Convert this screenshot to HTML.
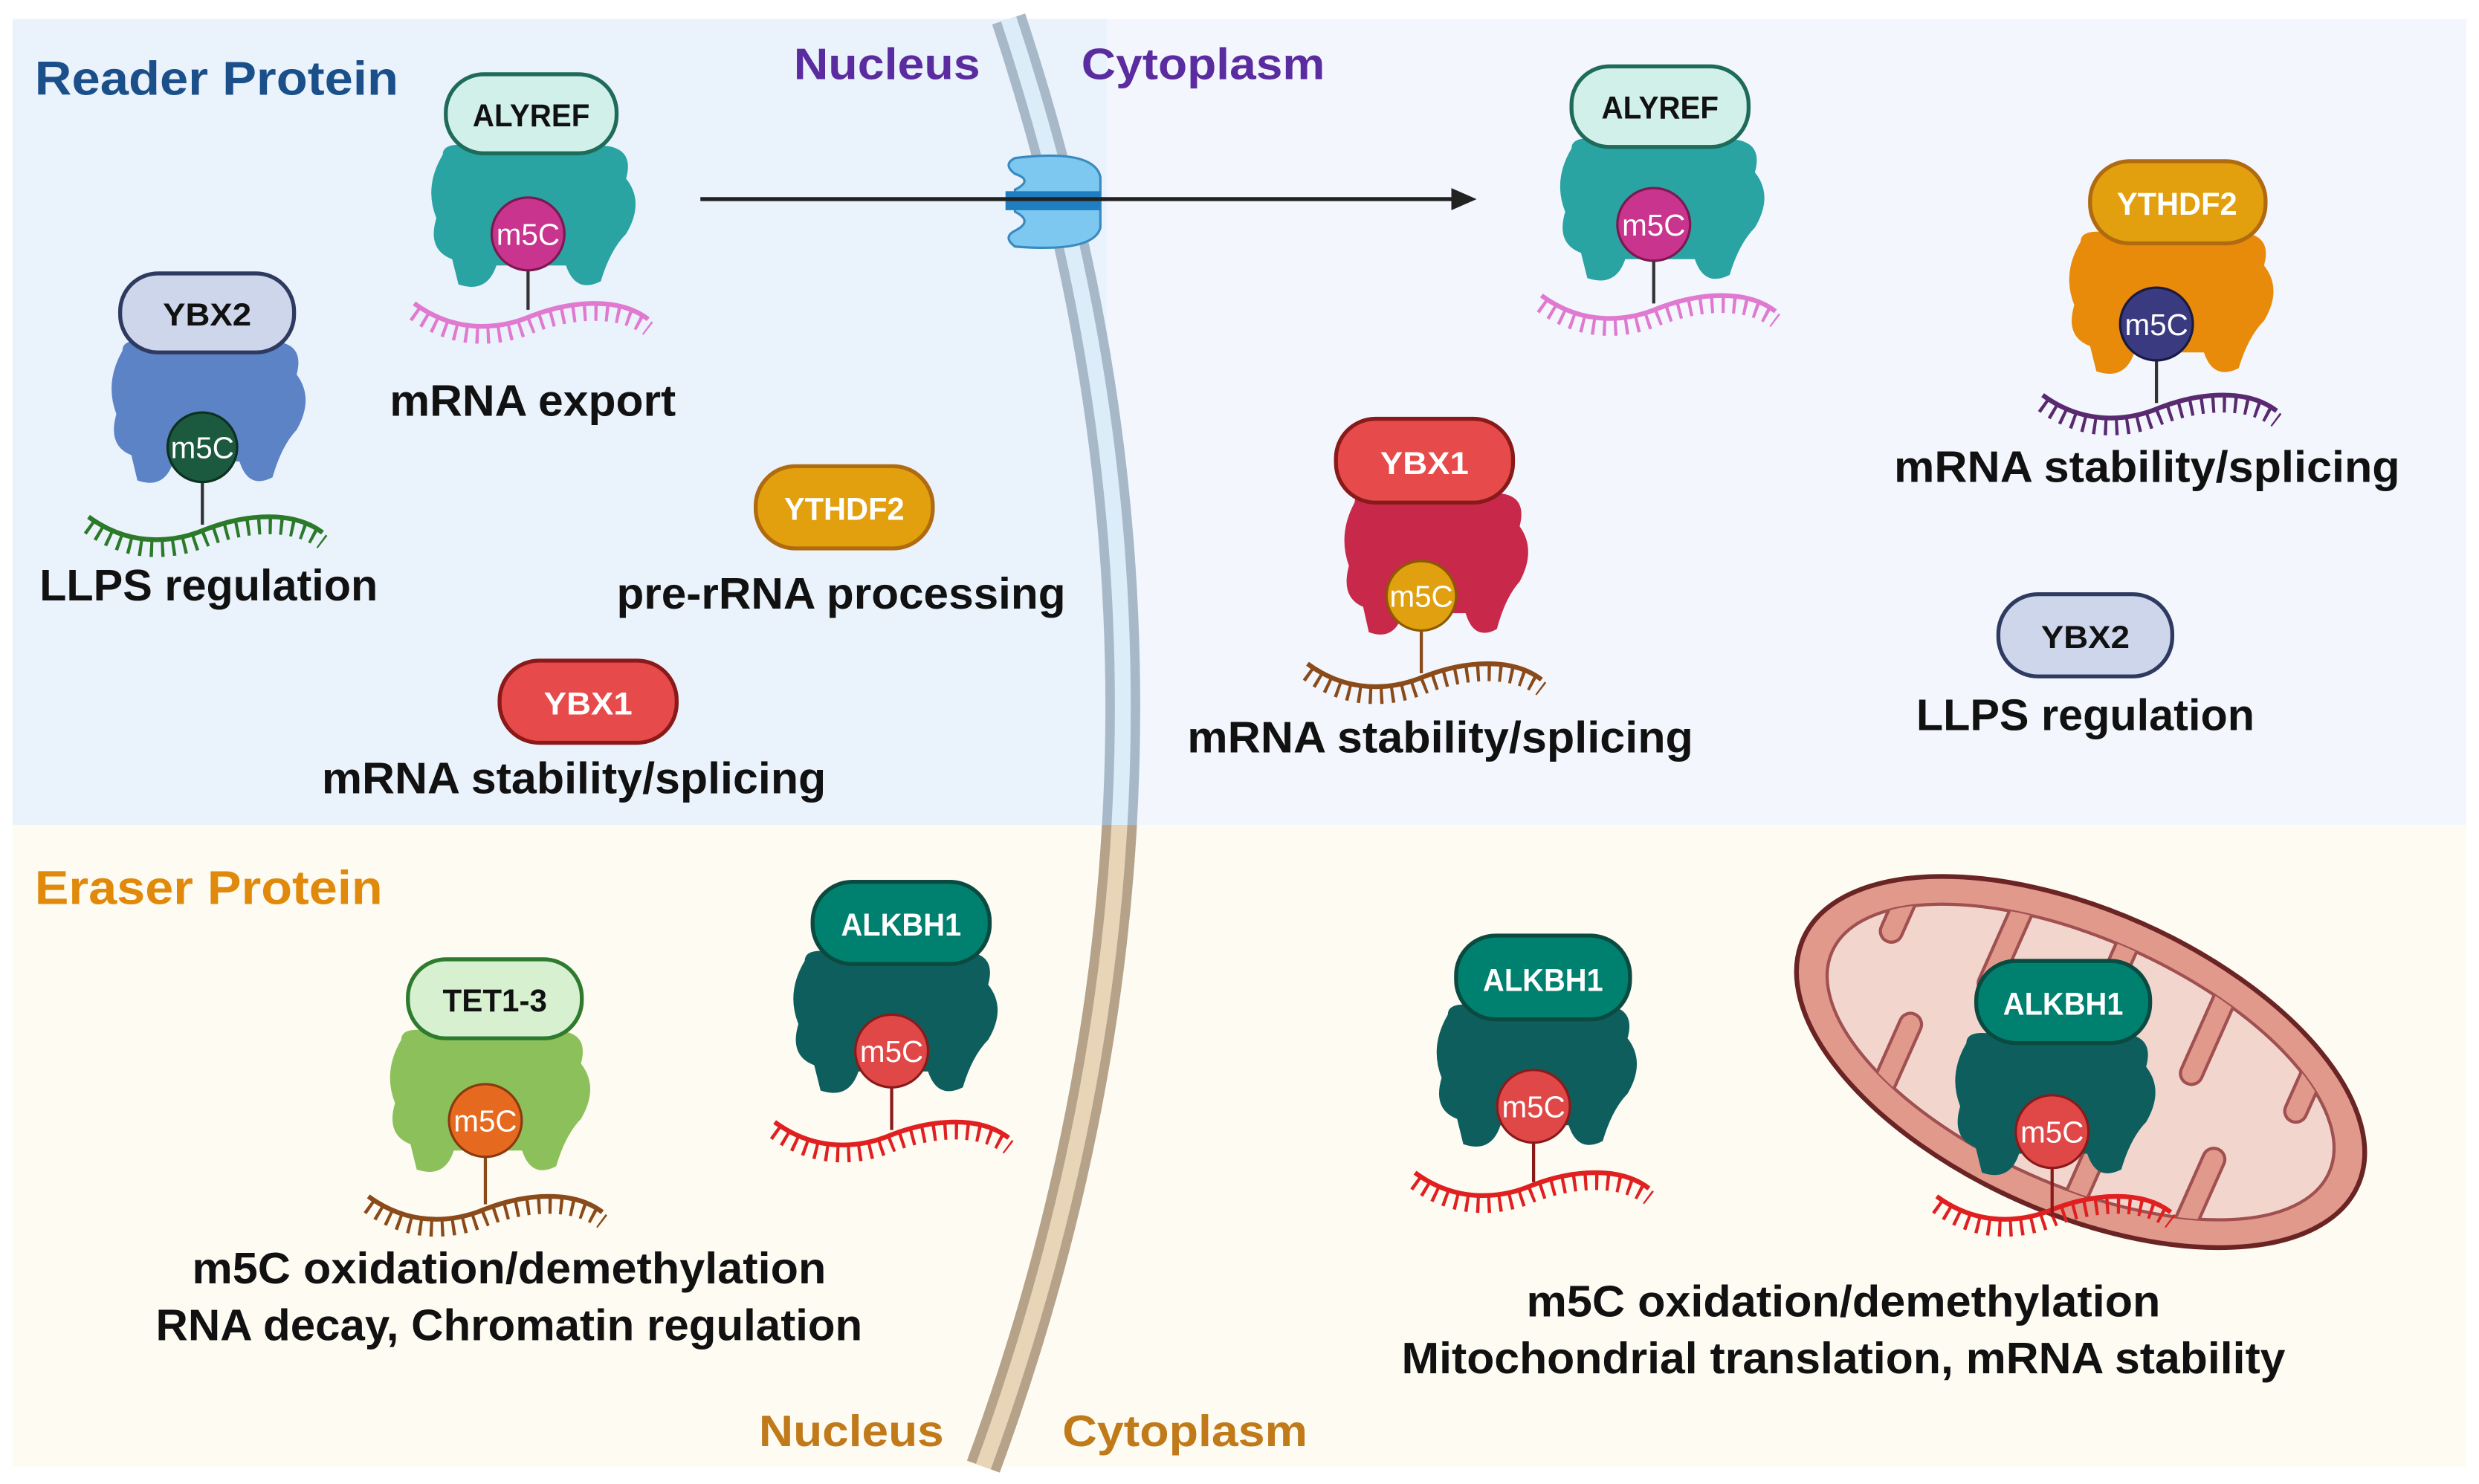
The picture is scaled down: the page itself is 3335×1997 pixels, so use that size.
<!DOCTYPE html>
<html><head><meta charset="utf-8"><style>
html,body{margin:0;padding:0;background:#fff}
svg{display:block}
text{font-family:"Liberation Sans",sans-serif;font-weight:bold}
</style></head><body>
<svg width="3335" height="1997" viewBox="0 0 1568 939" preserveAspectRatio="none" xmlns="http://www.w3.org/2000/svg">
<defs>
<path id="w" d="M0,-8 C30,14 60,6 74,0 C100,-10 130,-12 148,2" fill="none"/>
<g id="rna">
<use href="#w" stroke-width="3"/>
<use href="#w" transform="translate(0,6)" stroke-width="10" stroke-dasharray="2 5"/>
</g>
<path id="b" d="M12,10 Q0,30 8,50 Q2,70 18,76 L22,92 Q40,98 46,80 L90,80 Q96,98 112,90 Q118,70 128,60 Q140,40 128,25 Q134,4 110,4 L28,4 Q12,2 12,10 Z"/>
<clipPath id="mc"><ellipse cx="0" cy="0" rx="172" ry="78"/></clipPath>
</defs>

<rect x="0" y="0" width="1568" height="939" fill="#fff"/>
<rect x="8" y="12" width="700" height="510" fill="#eaf2fb"/>
<rect x="700" y="12" width="860" height="510" fill="#f3f7fd"/>
<rect x="8" y="522" width="1552" height="406" fill="#fdfbf2"/>

<!-- membrane -->
<path d="M638,12 Q790,470 622,928" fill="none" stroke="#a7b9c8" stroke-width="22"/>
<path d="M638,12 Q790,470 622,928" fill="none" stroke="#dcedf9" stroke-width="10"/>
<clipPath id="lc"><rect x="0" y="522" width="1568" height="420"/></clipPath>
<g clip-path="url(#lc)">
<path d="M638,12 Q790,470 622,928" fill="none" stroke="#b6a288" stroke-width="22"/>
<path d="M638,12 Q790,470 622,928" fill="none" stroke="#e8d5b8" stroke-width="10"/>
</g>

<!-- pore -->
<path d="M642,100 Q692,94 696,112 L696,144 Q692,160 642,156 Q634,150 642,146 Q654,140 642,134 L642,120 Q654,114 642,110 Q634,104 642,100 Z" fill="#7cc8f0" stroke="#3a8ac0" stroke-width="1.5"/>
<rect x="636" y="121" width="60" height="12" fill="#1e7ec0"/>

<!-- arrow -->
<line x1="443" y1="126" x2="920" y2="126" stroke="#222" stroke-width="2.5"/>
<polygon points="918,119 934,126 918,133" fill="#222"/>

<!-- titles -->
<text x="22" y="60" font-size="30" fill="#1a4f8a" textLength="230" lengthAdjust="spacingAndGlyphs">Reader Protein</text>
<text x="502" y="50" font-size="28" fill="#5b2ca0" textLength="118" lengthAdjust="spacingAndGlyphs">Nucleus</text>
<text x="684" y="50" font-size="28" fill="#5b2ca0" textLength="154" lengthAdjust="spacingAndGlyphs">Cytoplasm</text>
<text x="22" y="572" font-size="30" fill="#e0890a" textLength="220" lengthAdjust="spacingAndGlyphs">Eraser Protein</text>
<text x="480" y="915" font-size="28" fill="#c07a1a" textLength="117" lengthAdjust="spacingAndGlyphs">Nucleus</text>
<text x="672" y="915" font-size="28" fill="#c07a1a" textLength="155" lengthAdjust="spacingAndGlyphs">Cytoplasm</text>

<!-- left ALYREF -->
<g stroke="#e07ad0"><use href="#rna" transform="translate(262,200)"/></g>
<use href="#b" transform="translate(268,88)" fill="#2aa3a3"/>
<line x1="334" y1="165" x2="334" y2="196" stroke="#333" stroke-width="2"/>
<circle cx="334" cy="148" r="23" fill="#c8348e" stroke="#7a1a50" stroke-width="1.5"/>
<text x="334" y="155" font-size="19" fill="#fff" text-anchor="middle" style="font-weight:normal">m5C</text>
<rect x="282" y="47" width="108" height="50" rx="24" fill="#d2f0ea" stroke="#1f6b5a" stroke-width="2.5"/>
<text x="336" y="80" font-size="20" fill="#111" text-anchor="middle" textLength="74" lengthAdjust="spacingAndGlyphs">ALYREF</text>
<text x="337" y="263" font-size="28" fill="#111" text-anchor="middle" textLength="181" lengthAdjust="spacingAndGlyphs">mRNA export</text>

<!-- left YBX2 -->
<g stroke="#2a7a2a"><use href="#rna" transform="translate(56,335)"/></g>
<use href="#b" transform="translate(66,212) scale(0.95,1.0)" fill="#5b83c6"/>
<line x1="128" y1="300" x2="128" y2="332" stroke="#333" stroke-width="2"/>
<circle cx="128" cy="283" r="22" fill="#1c5a40" stroke="#0d3020" stroke-width="1.5"/>
<text x="128" y="290" font-size="19" fill="#fff" text-anchor="middle" style="font-weight:normal">m5C</text>
<rect x="76" y="173" width="110" height="50" rx="24" fill="#cdd6ea" stroke="#2e3a60" stroke-width="2.5"/>
<text x="131" y="206" font-size="20" fill="#111" text-anchor="middle" textLength="56" lengthAdjust="spacingAndGlyphs">YBX2</text>
<text x="132" y="380" font-size="28" fill="#111" text-anchor="middle" textLength="214" lengthAdjust="spacingAndGlyphs">LLPS regulation</text>

<!-- left YTHDF2 -->
<rect x="478" y="295" width="112" height="52" rx="25" fill="#e2a00e" stroke="#b06a10" stroke-width="2.5"/>
<text x="534" y="329" font-size="20" fill="#fff" text-anchor="middle" textLength="76" lengthAdjust="spacingAndGlyphs">YTHDF2</text>
<text x="532" y="385" font-size="28" fill="#111" text-anchor="middle" textLength="284" lengthAdjust="spacingAndGlyphs">pre-rRNA processing</text>

<!-- left YBX1 -->
<rect x="316" y="418" width="112" height="52" rx="25" fill="#e64a4a" stroke="#8a1a1a" stroke-width="2.5"/>
<text x="372" y="452" font-size="20" fill="#fff" text-anchor="middle" textLength="56" lengthAdjust="spacingAndGlyphs">YBX1</text>
<text x="363" y="502" font-size="28" fill="#111" text-anchor="middle" textLength="319" lengthAdjust="spacingAndGlyphs">mRNA stability/splicing</text>

<!-- right ALYREF -->
<g stroke="#e07ad0"><use href="#rna" transform="translate(975,195)"/></g>
<use href="#b" transform="translate(982,84)" fill="#2aa3a3"/>
<line x1="1046" y1="160" x2="1046" y2="192" stroke="#333" stroke-width="2"/>
<circle cx="1046" cy="142" r="23" fill="#c8348e" stroke="#7a1a50" stroke-width="1.5"/>
<text x="1046" y="149" font-size="19" fill="#fff" text-anchor="middle" style="font-weight:normal">m5C</text>
<rect x="994" y="42" width="112" height="51" rx="24" fill="#d2f0ea" stroke="#1f6b5a" stroke-width="2.5"/>
<text x="1050" y="75" font-size="20" fill="#111" text-anchor="middle" textLength="74" lengthAdjust="spacingAndGlyphs">ALYREF</text>

<!-- right YTHDF2 -->
<g stroke="#5a2a70"><use href="#rna" transform="translate(1292,258)"/></g>
<use href="#b" transform="translate(1304,143)" fill="#e88a0a"/>
<line x1="1364" y1="222" x2="1364" y2="255" stroke="#333" stroke-width="2"/>
<circle cx="1364" cy="205" r="23" fill="#3a3a80" stroke="#1a1a40" stroke-width="1.5"/>
<text x="1364" y="212" font-size="19" fill="#fff" text-anchor="middle" style="font-weight:normal">m5C</text>
<rect x="1322" y="102" width="111" height="52" rx="25" fill="#e2a00e" stroke="#b06a10" stroke-width="2.5"/>
<text x="1377" y="136" font-size="20" fill="#fff" text-anchor="middle" textLength="76" lengthAdjust="spacingAndGlyphs">YTHDF2</text>
<text x="1358" y="305" font-size="28" fill="#111" text-anchor="middle" textLength="320" lengthAdjust="spacingAndGlyphs">mRNA stability/splicing</text>

<!-- right YBX1 -->
<g stroke="#8a4a1a"><use href="#rna" transform="translate(827,428)"/></g>
<use href="#b" transform="translate(846,308) scale(0.9,1)" fill="#c8284a"/>
<line x1="899" y1="395" x2="899" y2="426" stroke="#8a4a1a" stroke-width="2"/>
<circle cx="899" cy="377" r="22" fill="#e0a010" stroke="#8a5a00" stroke-width="1.5"/>
<text x="899" y="384" font-size="19" fill="#fff" text-anchor="middle" style="font-weight:normal">m5C</text>
<rect x="845" y="265" width="112" height="53" rx="25" fill="#e64a4a" stroke="#8a1a1a" stroke-width="2.5"/>
<text x="901" y="300" font-size="20" fill="#fff" text-anchor="middle" textLength="56" lengthAdjust="spacingAndGlyphs">YBX1</text>
<text x="911" y="476" font-size="28" fill="#111" text-anchor="middle" textLength="320" lengthAdjust="spacingAndGlyphs">mRNA stability/splicing</text>

<!-- right YBX2 -->
<rect x="1264" y="376" width="110" height="52" rx="25" fill="#cdd6ea" stroke="#2e3a60" stroke-width="2.5"/>
<text x="1319" y="410" font-size="20" fill="#111" text-anchor="middle" textLength="56" lengthAdjust="spacingAndGlyphs">YBX2</text>
<text x="1319" y="462" font-size="28" fill="#111" text-anchor="middle" textLength="214" lengthAdjust="spacingAndGlyphs">LLPS regulation</text>

<!-- TET1-3 -->
<g stroke="#8a4a1a"><use href="#rna" transform="translate(233,765)"/></g>
<use href="#b" transform="translate(242,648) scale(0.98,1)" fill="#8cc05a"/>
<line x1="307" y1="727" x2="307" y2="762" stroke="#8a4a1a" stroke-width="2"/>
<circle cx="307" cy="709" r="23" fill="#e56a20" stroke="#8a3a10" stroke-width="1.5"/>
<text x="307" y="716" font-size="19" fill="#fff" text-anchor="middle" style="font-weight:normal">m5C</text>
<rect x="258" y="607" width="110" height="50" rx="24" fill="#d6f0d0" stroke="#2e7a2e" stroke-width="2.5"/>
<text x="313" y="640" font-size="20" fill="#111" text-anchor="middle" textLength="66" lengthAdjust="spacingAndGlyphs">TET1-3</text>
<text x="322" y="812" font-size="28" fill="#111" text-anchor="middle" textLength="401" lengthAdjust="spacingAndGlyphs">m5C oxidation/demethylation</text>
<text x="322" y="848" font-size="28" fill="#111" text-anchor="middle" textLength="447" lengthAdjust="spacingAndGlyphs">RNA decay, Chromatin regulation</text>

<!-- left ALKBH1 -->
<g stroke="#e02020"><use href="#rna" transform="translate(490,718)"/></g>
<use href="#b" transform="translate(497,598)" fill="#0e5e5e"/>
<line x1="564" y1="683" x2="564" y2="715" stroke="#8a1a1a" stroke-width="2"/>
<circle cx="564" cy="665" r="23" fill="#e04848" stroke="#8a1a1a" stroke-width="1.5"/>
<text x="564" y="672" font-size="19" fill="#fff" text-anchor="middle" style="font-weight:normal">m5C</text>
<rect x="514" y="558" width="112" height="52" rx="25" fill="#00806e" stroke="#0a4a40" stroke-width="2.5"/>
<text x="570" y="592" font-size="20" fill="#fff" text-anchor="middle" textLength="76" lengthAdjust="spacingAndGlyphs">ALKBH1</text>

<!-- cytoplasm ALKBH1 -->
<g stroke="#e02020"><use href="#rna" transform="translate(895,750)"/></g>
<use href="#b" transform="translate(904,632) scale(0.98,1)" fill="#0e5e5e"/>
<line x1="970" y1="718" x2="970" y2="748" stroke="#8a1a1a" stroke-width="2"/>
<circle cx="970" cy="700" r="23" fill="#e04848" stroke="#8a1a1a" stroke-width="1.5"/>
<text x="970" y="707" font-size="19" fill="#fff" text-anchor="middle" style="font-weight:normal">m5C</text>
<rect x="921" y="592" width="110" height="53" rx="25" fill="#00806e" stroke="#0a4a40" stroke-width="2.5"/>
<text x="976" y="627" font-size="20" fill="#fff" text-anchor="middle" textLength="76" lengthAdjust="spacingAndGlyphs">ALKBH1</text>

<!-- mitochondrion -->
<g transform="translate(1316,672) rotate(24)">
<ellipse cx="0" cy="0" rx="192" ry="96" fill="#e0998a" stroke="#6a2424" stroke-width="3"/>
<ellipse cx="0" cy="0" rx="172" ry="78" fill="#f2d6ce" stroke="#a05050" stroke-width="2"/>
<g clip-path="url(#mc)" fill="#e0998a" stroke="#a05050" stroke-width="2">
<rect x="-150" y="-90" width="14" height="70" rx="7"/>
<rect x="-115" y="15" width="14" height="75" rx="7"/>
<rect x="-80" y="-90" width="14" height="75" rx="7"/>
<rect x="-45" y="15" width="14" height="75" rx="7"/>
<rect x="-10" y="-90" width="14" height="75" rx="7"/>
<rect x="25" y="15" width="14" height="75" rx="7"/>
<rect x="60" y="-90" width="14" height="75" rx="7"/>
<rect x="95" y="15" width="14" height="75" rx="7"/>
<rect x="130" y="-90" width="14" height="70" rx="7"/>
</g>
</g>
<g stroke="#e02020"><use href="#rna" transform="translate(1225,765)"/></g>
<use href="#b" transform="translate(1232,650) scale(0.98,1)" fill="#0e5e5e"/>
<line x1="1298" y1="734" x2="1298" y2="770" stroke="#8a1a1a" stroke-width="2"/>
<circle cx="1298" cy="716" r="23" fill="#e04848" stroke="#8a1a1a" stroke-width="1.5"/>
<text x="1298" y="723" font-size="19" fill="#fff" text-anchor="middle" style="font-weight:normal">m5C</text>
<rect x="1250" y="608" width="110" height="52" rx="25" fill="#00806e" stroke="#0a4a40" stroke-width="2.5"/>
<text x="1305" y="642" font-size="20" fill="#fff" text-anchor="middle" textLength="76" lengthAdjust="spacingAndGlyphs">ALKBH1</text>

<text x="1166" y="833" font-size="28" fill="#111" text-anchor="middle" textLength="401" lengthAdjust="spacingAndGlyphs">m5C oxidation/demethylation</text>
<text x="1166" y="869" font-size="28" fill="#111" text-anchor="middle" textLength="559" lengthAdjust="spacingAndGlyphs">Mitochondrial translation, mRNA stability</text>
</svg>
</body></html>
